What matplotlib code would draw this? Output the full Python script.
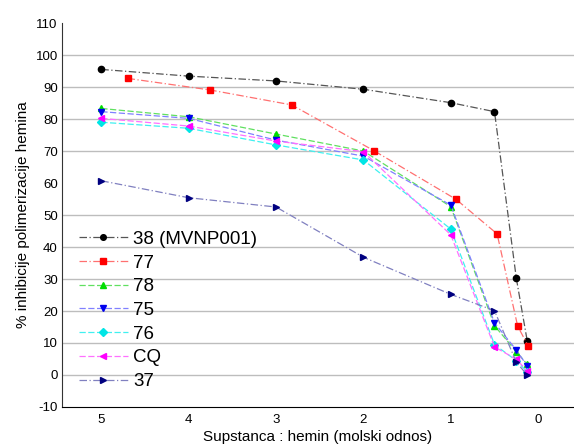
import matplotlib.pyplot as plt

plt.rcParams['font.family'] = ['Liberation Sans', 'DejaVu Sans']
plt.rcParams['axes.unicode_minus'] = False

# molar ratio (substance : hemin)
ratio = [5, 4, 3, 2, 1, 0.5, 0.25, 0.125]
ratio_77 = [4.7, 3.76, 2.82, 1.88, 0.94, 0.47, 0.235, 0.1175]

inh_38 = [95.5, 93.4, 91.9, 89.3, 85.1, 82.3, 30.2, 10.6]
inh_77 = [92.7, 89.1, 84.4, 70.1, 54.9, 44.1, 15.3, 9.2]
inh_78 = [83.3, 80.7, 75.3, 70.0, 52.6, 15.4, 7.3, 3.3]
inh_75 = [82.3, 80.2, 73.4, 68.4, 53.1, 16.3, 7.8, 2.8]
inh_76 = [79.0, 77.1, 71.9, 67.2, 45.6, 9.5, 4.5, 1.0]
inh_cq = [80.2, 77.8, 73.1, 69.8, 43.8, 8.8, 4.9, 1.3]
inh_37 = [60.7, 55.4, 52.5, 36.8, 25.2, 20.1, 4.0, 0.0]

grid_levels = [0, 10, 20, 30, 40, 50, 70, 80, 90, 100]

series = [
    ('38 (MVNP001)', ratio, inh_38, 'o', 'black', '#555555', (0, (6, 2, 1, 2))),
    ('77', ratio_77, inh_77, 's', '#ff0000', '#ff7070', (0, (6, 2, 1, 2))),
    ('78', ratio, inh_78, '^', '#00dd00', '#60e060', (0, (5, 2))),
    ('75', ratio, inh_75, 'v', '#0000ee', '#8080ff', (0, (5, 2))),
    ('76', ratio, inh_76, 'D', '#00e5e5', '#40f0f0', (0, (5, 2))),
    ('CQ', ratio, inh_cq, '<', '#ff00ff', '#ff70ff', (0, (5, 2))),
    ('37', ratio, inh_37, '>', '#000080', '#8080c0', (0, (6, 2, 1, 2))),
]

fig = plt.figure(figsize=(5.74, 4.47), dpi=100)
ax = fig.add_axes([0.108, 0.0895, 0.892, 0.859])

for lvl in grid_levels:
    ax.axhline(lvl, color='#bdbdbd', lw=1.0, zorder=0)

for label, xs, ys, mk, mcol, lcol, ls in series:
    ax.plot(xs, ys, linestyle=ls, color=lcol, lw=0.9, marker=mk, ms=4.5,
            markerfacecolor=mcol, markeredgecolor=mcol, label=label)

ax.set_xlim(5.45, -0.41)
ax.set_ylim(-10, 110)
ax.set_xticks([5, 4, 3, 2, 1, 0])
ax.set_yticks(range(-10, 111, 10))
ax.tick_params(axis='both', labelsize=9.5, length=0, pad=3)
ax.tick_params(axis='x', pad=5)
for side in ['top', 'right']:
    ax.spines[side].set_visible(False)
ax.spines['left'].set_color('#333333')
ax.spines['bottom'].set_color('black')

ax.set_xlabel('Supstanca : hemin (molski odnos)', fontsize=11, labelpad=3)
ax.set_ylabel('% inhibicije polimerizacije hemina', fontsize=11, labelpad=4)

ax.legend(loc='lower left', bbox_to_anchor=(0.0, 0.0), frameon=False,
          fontsize=13.5, handlelength=2.6, handletextpad=0.3,
          labelspacing=0.35, markerscale=0.9)

fig.savefig('out.png')
